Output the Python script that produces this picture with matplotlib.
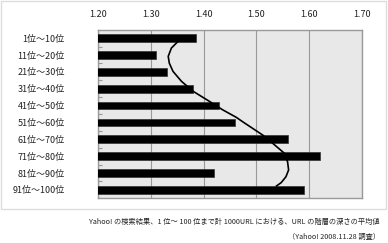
import matplotlib
matplotlib.use('Agg')
import matplotlib.pyplot as plt
from matplotlib.patches import Rectangle
from matplotlib.ticker import FixedLocator

plt.rcParams['font.family'] = ['Noto Sans CJK JP', 'DejaVu Sans']

# %% data
labels = ['1位～10位', '11位～20位', '21位～30位', '31位～40位', '41位～50位',
          '51位～60位', '61位～70位', '71位～80位', '81位～90位', '91位～100位']
depth = [1.385, 1.31, 1.33, 1.38, 1.43, 1.46, 1.56, 1.62, 1.42, 1.59]
xticks = [1.2, 1.3, 1.4, 1.5, 1.6, 1.7]

# hand-drawn trend curve (x value, row position)
curve_x = [1.353, 1.339, 1.333, 1.335, 1.342, 1.358, 1.380, 1.411, 1.436,
           1.462, 1.474, 1.512, 1.531, 1.553, 1.559, 1.561, 1.556, 1.547, 1.538]
curve_y = [0.15, 0.59, 1.08, 1.48, 1.97, 2.56, 3.15, 3.75, 4.25,
           4.70, 4.96, 5.75, 6.24, 6.83, 7.33, 7.82, 8.22, 8.57, 8.77]

caption1 = 'Yahoo! の検索結果、1 位～ 100 位まで計 1000URL における、URL の階層の深さの平均値'
caption2 = '（Yahoo! 2008.11.28 調査）'

# %% plot
fig = plt.figure(figsize=(3.88, 2.43), dpi=100)
ax = fig.add_axes([98/388, 1 - 198.3/243, 264/388, 168.6/243])
ax.set_facecolor('#e8e8e8')

pos = list(range(len(labels)))
ax.barh(pos, depth, height=0.45, color='black', edgecolor='#333333',
        linewidth=0.5, zorder=3)
ax.plot(curve_x, curve_y, color='black', lw=1.2, zorder=4)

ax.set_xlim(1.2, 1.7)
ax.set_ylim(len(labels) - 0.5, -0.5)
ax.set_xticks(xticks)
ax.set_xticklabels(['%.2f' % t for t in xticks])
ax.xaxis.tick_top()
ax.tick_params(axis='x', length=0, pad=8, labelsize=6.5, colors='#222222')
ax.grid(axis='x', color='#999999', lw=0.8, zorder=1)

ax.set_yticks(pos)
ax.set_yticklabels(labels)
ax.tick_params(axis='y', which='major', length=0, pad=24, labelsize=6.5,
               colors='#222222')
for lab in ax.get_yticklabels():
    lab.set_horizontalalignment('right')
ax.yaxis.set_minor_locator(FixedLocator([p + 0.5 for p in pos[:-1]]))
ax.tick_params(axis='y', which='minor', direction='in', length=3,
               color='#999999', width=0.8)

for s in ax.spines.values():
    s.set_color('#999999')
    s.set_linewidth(1.0)

# outer frame
fig.add_artist(Rectangle((1/388, 1 - 209/243), 385/388, 208/243,
                         transform=fig.transFigure, fill=False,
                         edgecolor='#dddddd', lw=1.0))

fig.text(380/388, 1 - 221.7/243, caption1, ha='right', va='center',
         fontsize=5.2, color='#222222')
fig.text(380/388, 1 - 236.5/243, caption2, ha='right', va='center',
         fontsize=5.2, color='#222222')

fig.savefig('out.png', dpi=100)
